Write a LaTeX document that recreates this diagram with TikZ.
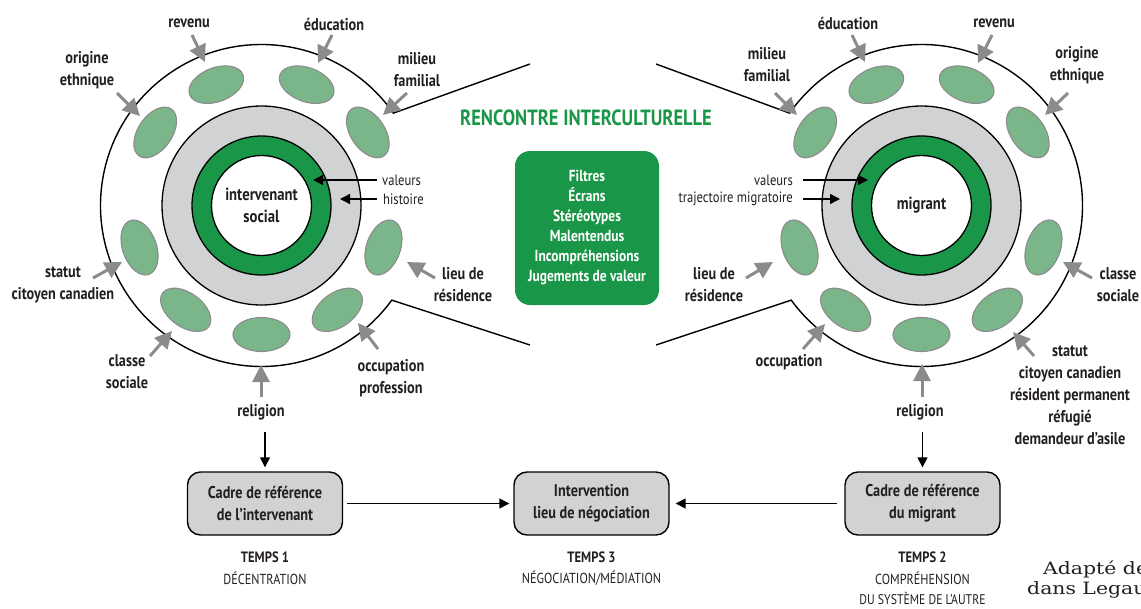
\documentclass[tikz,border=0pt]{standalone}
\usepackage{fontspec}
\setmainfont{PT Sans}[FakeStretch=0.84]
\newfontfamily\creditfont{DejaVu Serif}[FakeStretch=1.2]
\usetikzlibrary{arrows.meta,shapes.geometric,calc}
\definecolor{dgreen}{RGB}{26,150,72}
\definecolor{lgreen}{RGB}{122,182,138}
\definecolor{lgray}{RGB}{209,210,212}
\definecolor{agray}{RGB}{138,139,141}
\definecolor{egray}{RGB}{140,140,140}
\definecolor{ink}{RGB}{35,31,32}
\begin{document}
\begin{tikzpicture}[x=1pt,y=-1pt,
  lbl/.style={font=\fontsize{17}{22}\selectfont\bfseries, align=center, text=ink, inner sep=0pt},
  small/.style={font=\fontsize{15}{21}\selectfont, text=ink, inner sep=0pt},
  garrow/.style={draw=agray, line width=3pt, -{Triangle[length=17pt,width=17pt]}},
  barrow/.style={draw=black, line width=1.4pt, -{Triangle[length=10pt,width=10pt]}},
  blob/.style={ellipse, draw=egray, line width=1.1pt, fill=lgreen, minimum width=57pt, minimum height=34pt, inner sep=0pt},
  ring/.style={circle, draw=black, line width=1.3pt, inner sep=0pt},
  cadre/.style={rectangle, rounded corners=13pt, draw=black, line width=1.4pt, fill=lgray, minimum width=155pt, minimum height=63pt, align=center, font=\fontsize{17}{22}\selectfont\bfseries, text=ink},
  temps/.style={font=\fontsize{14.5}{21}\selectfont, text=ink, inner sep=0pt, align=center}
]
\useasboundingbox (0,0) rectangle (1141,608);
\clip (0,0) rectangle (1141,608);

\coordinate (cL) at (261.5,205.5);
\coordinate (cR) at (921.5,205.5);

% outer bubbles
\coordinate (tlL) at (530,64);
\coordinate (blL) at (530,345);
\coordinate (trR) at (656,64);
\coordinate (brR) at (656,345);
\draw[line width=1.4pt] (tlL) -- ($(cL)+(-35:161)$) arc[start angle=-35, end angle=-324, radius=161] -- (blL);
\draw[line width=1.4pt] (trR) -- ($(cR)+(-145:161)$) arc[start angle=-145, end angle=144, radius=161] -- (brR);

% ellipses
\foreach \a [count=\i] in {34.5,69.5,110.5,145.5,199,234,270,306,341} {
  \node[blob, rotate=\a+90] (eL\i) at ($(cL)+(-\a:129)$) {};
  \node[blob, rotate=\a+90] (eR\i) at ($(cR)+(-\a:129)$) {};
}

% concentric circles
\node[ring, fill=lgray, minimum size=199pt] (gL) at (cL) {};
\node[ring, fill=dgreen, minimum size=139pt] (rL) at (cL) {};
\node[ring, fill=white, minimum size=100pt, align=center, font=\fontsize{17.5}{22}\selectfont\bfseries, text=ink] (wL) at (cL) {intervenant\\social};
\node[ring, fill=lgray, minimum size=199pt] (gR) at (cR) {};
\node[ring, fill=dgreen, minimum size=139pt] (rR) at (cR) {};
\node[ring, fill=white, minimum size=100pt, font=\fontsize{17.5}{22}\selectfont\bfseries, text=ink] (wR) at (cR) {migrant};

% inner black arrows
\coordinate (vaLt) at (377,180); \coordinate (vaLh) at (313,180);
\coordinate (hiLt) at (377,199); \coordinate (hiLh) at (340,199);
\draw[barrow] (vaLt) -- (vaLh);
\draw[barrow] (hiLt) -- (hiLh);
\node[small, anchor=west] (valL) at (382,180) {valeurs};
\node[small, anchor=west] (hisL) at (383,199) {histoire};
\coordinate (vaRt) at (803,180); \coordinate (vaRh) at (868,180);
\coordinate (trRt) at (803,199); \coordinate (trRh) at (840,199);
\draw[barrow] (vaRt) -- (vaRh);
\draw[barrow] (trRt) -- (trRh);
\node[small, anchor=east] (valR) at (793,180) {valeurs};
\node[small, anchor=east] (traR) at (793,199) {trajectoire migratoire};

% left labels
\node[lbl] (revL) at (189,23) {revenu};
\node[lbl] (eduL) at (334,24) {éducation};
\node[lbl] (milL) at (417,70) {milieu\\familial};
\node[lbl] (oriL) at (87,70) {origine\\ethnique};
\node[lbl] (staL) at (63,285) {statut\\citoyen canadien};
\node[lbl] (lieL) at (463,285) {lieu de\\résidence};
\node[lbl] (claL) at (127,372) {classe\\sociale};
\node[lbl] (occL) at (391,378) {occupation\\profession};
\node[lbl] (relL) at (261,412) {religion};

% right labels
\node[lbl] (eduR) at (848,23) {éducation};
\node[lbl] (revR) at (994,23) {revenu};
\node[lbl] (milR) at (767,65) {milieu\\familial};
\node[lbl] (oriR) at (1077,65) {origine\\ethnique};
\node[lbl] (lieR) at (714,285) {lieu de\\résidence};
\node[lbl] (claR) at (1118,285) {classe\\sociale};
\node[lbl] (occR) at (789,362) {occupation};
\node[lbl] (staR) at (1070,395) {statut\\citoyen canadien\\résident permanent\\réfugié\\demandeur d’asile};
\node[lbl] (relR) at (920,412) {religion};

% gray arrows
\foreach \n/\tx/\ty/\hx/\hy in {revL/192/35/205/62, eduL/332/35/318/63, milL/407/93/383/115,
  oriL/117/93/140/116, staL/93/278/122/262, lieL/435/278/407/262,
  claL/150/356/172/331, occL/378/349/358/323, relL/261/397/261/365,
  eduR/852/35/865/62, revR/992/35/978/63, milR/775/93/797/115,
  oriR/1068/93/1045/115, lieR/746/278/773/262, claR/1092/278/1063/262,
  occR/803/349/825/324, staR/1034/356/1013/332, relR/922/397/922/364} {
  \coordinate (\n-t) at (\tx,\ty);
  \coordinate (\n-h) at (\hx,\hy);
  \draw[garrow] (\n-t) -- (\n-h);
}

% centre
\node[font=\fontsize{22}{26}\selectfont\bfseries, text=dgreen, inner sep=0pt] (renc) at (586,118) {RENCONTRE INTERCULTURELLE};
\node[rectangle, rounded corners=15pt, fill=dgreen, minimum width=144pt, minimum height=154pt, align=center,
  font=\fontsize{16}{20}\selectfont\bfseries, text=white] (filt) at (587,228)
  {Filtres\\Écrans\\Stéréotypes\\Malentendus\\Incompréhensions\\Jugements de valeur};

% bottom boxes
\node[cadre] (cadL) at (265,503.5) {Cadre de référence\\de l’intervenant};
\node[cadre] (inter) at (591.5,503.5) {Intervention\\lieu de négociation};
\node[cadre] (cadR) at (922.5,503.5) {Cadre de référence\\du migrant};

\coordinate (dL) at (265,432);
\coordinate (dR) at (922.5,432);
\draw[barrow, shorten >=4pt] (dL) -- (cadL.north);
\draw[barrow, shorten >=4pt] (dR) -- (cadR.north);
\draw[barrow, shorten >=4pt, shorten <=4pt] (cadL.east) -- (inter.west);
\draw[barrow, shorten >=6pt, shorten <=7pt] (cadR.west) -- (inter.east);

\node[temps, font=\fontsize{15}{21}\selectfont\bfseries] (t1) at (265,557) {TEMPS 1};
\node[temps] (t1b) at (265,578) {DÉCENTRATION};
\node[temps, font=\fontsize{15}{21}\selectfont\bfseries] (t3) at (591.5,557) {TEMPS 3};
\node[temps] (t3b) at (591.5,578) {NÉGOCIATION/MÉDIATION};
\node[temps, font=\fontsize{15}{21}\selectfont\bfseries] (t2) at (922.5,557) {TEMPS 2};
\node[temps] (t2b) at (922.5,578) {COMPRÉHENSION};
\node[temps, font=\fontsize{14}{21}\selectfont] (t2c) at (922.5,598.5) {DU SYSTÈME DE L’AUTRE};

% credit (cut by the frame, as in the reference)
\node[anchor=base west, font=\creditfont\fontsize{17}{20}\selectfont, text=ink, inner sep=0pt] (cr1) at (1043,574) {Adapté de};
\node[anchor=base west, font=\creditfont\fontsize{17}{20}\selectfont, text=ink, inner sep=0pt] (cr2) at (1027,594) {dans Legault};
\end{tikzpicture}
\end{document}
